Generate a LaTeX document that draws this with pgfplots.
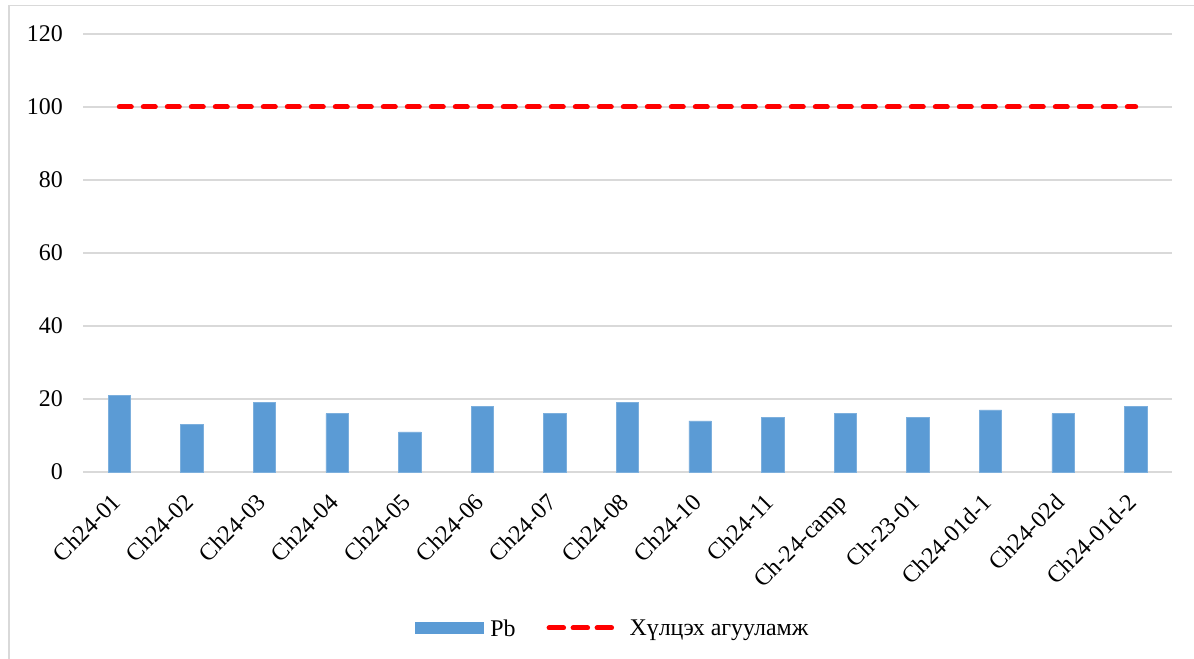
\documentclass[border=0pt]{standalone}
\usepackage{pgfplots}
\pgfplotsset{compat=1.18}
\usepackage{fontspec}
\setmainfont{Liberation Serif}
\definecolor{barblue}{HTML}{5B9BD5}
\definecolor{gridgray}{HTML}{D9D9D9}
\begin{document}
\begin{tikzpicture}
\begin{axis}[
  at={(0,0)}, anchor=south west,
  scale only axis,
  width=1089bp, height=438bp,
  xmin=-0.5, xmax=14.5,
  ymin=0, ymax=120,
  ytick={0,20,40,60,80,100,120},
  xtick={0,...,14},
  xticklabels={Ch24-01,Ch24-02,Ch24-03,Ch24-04,Ch24-05,Ch24-06,Ch24-07,Ch24-08,Ch24-10,Ch24-11,Ch-24-camp,Ch-23-01,Ch24-01d-1,Ch24-02d,Ch24-01d-2},
  major tick length=0pt,
  axis line style={draw=none},
  axis x line*=bottom,
  ymajorgrids,
  grid style={gridgray, line width=1.5bp},
  extra y ticks={0},
  extra y tick labels={},
  extra y tick style={grid style={gridgray, line width=1.8bp}},
  /pgf/number format/assume math mode=true,
  tick label style={font=\fontsize{24}{27}\selectfont},
  yticklabel style={anchor=east, inner sep=0pt, xshift=-20bp},
  xticklabel style={inner sep=0pt, anchor=north east, xshift=-9bp, yshift=-20bp, rotate=45},
  legend columns=2,
  legend style={at={(axis description cs:0.4853,-0.356)}, anchor=center, draw=none, fill=none,
    font=\fontsize{24}{27}\selectfont,
    nodes={inner sep=0pt, text depth=0pt},
    /tikz/every odd column/.append style={column sep=7bp},
    /tikz/every even column/.append style={column sep=31bp}},
  clip=false,
]
\addplot[ybar, bar width=22.4bp, fill=barblue, draw=barblue!80!white, line width=0.6bp,
  legend image code/.code={\fill[barblue] (0bp,-5.8bp) rectangle (68bp,5.8bp);}]
  coordinates {(0,21) (1,13) (2,19) (3,16) (4,11) (5,18) (6,16) (7,19) (8,14) (9,15) (10,16) (11,15) (12,17) (13,16) (14,18)};
\addlegendentry{Pb}
\addplot[red, line width=5bp, line cap=round, dash pattern=on 12bp off 12bp,
  legend image code/.code={\path (0bp,0bp) -- (71bp,0bp);\draw[red, line width=5bp, line cap=round, dash pattern=on 12bp off 12bp] (2.5bp,0bp) -- (62.5bp,0bp);}]
  coordinates {(0,100) (1,100) (2,100) (3,100) (4,100) (5,100) (6,100) (7,100) (8,100) (9,100) (10,100) (11,100) (12,100) (13,100) (14,100)};
\addlegendentry{Хүлцэх агууламж}
\end{axis}
\draw[gridgray, line width=1.5bp] (-74bp,-187bp) -- (-74bp,466.5bp) -- (1111bp,466.5bp);
\pgfresetboundingbox
\useasboundingbox (-83bp,-187bp) rectangle (1111bp,472bp);
\end{tikzpicture}
\end{document}
